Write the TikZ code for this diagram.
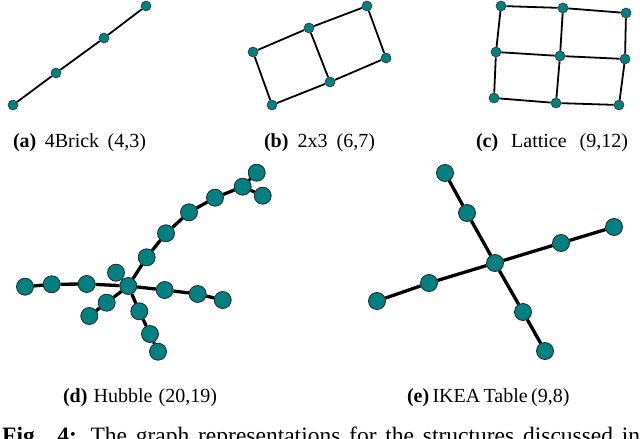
\documentclass[tikz,border=0pt]{standalone}
\usepackage{fontspec}
\setmainfont{Liberation Serif}
\definecolor{nodeteal}{RGB}{0,128,128}
\begin{document}
\begin{tikzpicture}[x=1pt,y=-1pt,
  sv/.style={circle,fill=nodeteal,draw=black!80,line width=0.6pt,inner sep=0pt,minimum size=10pt},
  bv/.style={circle,fill=nodeteal,draw=black!85,line width=0.8pt,inner sep=0pt,minimum size=17pt},
  se/.style={line width=1.8pt},
  be/.style={line width=3.3pt},
  subcap/.style={anchor=base,font=\fontsize{20}{24}\selectfont,inner sep=0pt},
  figcap/.style={anchor=base west,font=\fontsize{23.5}{28}\selectfont,inner sep=0pt}]
\useasboundingbox (0,0) rectangle (640,439);

% (a) 4Brick
\node[sv] (a1) at (13,105) {};
\node[sv] (a2) at (56,73) {};
\node[sv] (a3) at (104,38) {};
\node[sv] (a4) at (146,6) {};
\draw[se] (a1) -- (a2) -- (a3) -- (a4);

% (b) 2x3
\node[sv] (b1) at (253,52) {};
\node[sv] (b2) at (309,28) {};
\node[sv] (b3) at (367,6) {};
\node[sv] (b4) at (272,105) {};
\node[sv] (b5) at (330,82) {};
\node[sv] (b6) at (386,58) {};
\draw[se] (b1) -- (b2) -- (b3);
\draw[se] (b4) -- (b5) -- (b6);
\draw[se] (b1) -- (b4);
\draw[se] (b2) -- (b5);
\draw[se] (b3) -- (b6);

% (c) Lattice
\node[sv] (c1) at (501,6) {};
\node[sv] (c2) at (563,8) {};
\node[sv] (c3) at (626,13) {};
\node[sv] (c4) at (496,52) {};
\node[sv] (c5) at (560,56) {};
\node[sv] (c6) at (625,59) {};
\node[sv] (c7) at (494,98) {};
\node[sv] (c8) at (556,103) {};
\node[sv] (c9) at (619,105) {};
\draw[se] (c1) -- (c2) -- (c3);
\draw[se] (c4) -- (c5) -- (c6);
\draw[se] (c7) -- (c8) -- (c9);
\draw[se] (c1) -- (c4) -- (c7);
\draw[se] (c2) -- (c5) -- (c8);
\draw[se] (c3) -- (c6) -- (c9);

% (d) Hubble
\node[bv] (h1) at (256.7,172.7) {};
\node[bv] (h3) at (262.7,195.7) {};
\node[bv] (h2) at (242.7,186.7) {};
\node[bv] (h4) at (215,197.7) {};
\node[bv] (h5) at (189,212.3) {};
\node[bv] (h6) at (166,233.3) {};
\node[bv] (h7) at (146.7,257.3) {};
\node[bv] (h8) at (116,272.7) {};
\node[bv] (h10) at (86.7,284) {};
\node[bv] (h11) at (51.7,284.3) {};
\node[bv] (h12) at (25,286.7) {};
\node[bv] (h13) at (164.7,290) {};
\node[bv] (h14) at (197.7,294) {};
\node[bv] (h15) at (222.7,300) {};
\node[bv] (h16) at (106.7,302.7) {};
\node[bv] (h17) at (89.3,316) {};
\node[bv] (h18) at (139.3,311.3) {};
\node[bv] (h19) at (150,334) {};
\node[bv] (h20) at (158,351.7) {};
\node[bv] (h9) at (128.3,286) {};
\draw[be] (h9) -- (h7) -- (h6) -- (h5) -- (h4) -- (h2) -- (h1);
\draw[be] (h2) -- (h3);
\draw[be] (h9) -- (h8);
\draw[be] (h9) -- (h10) -- (h11) -- (h12);
\draw[be] (h9) -- (h13) -- (h14) -- (h15);
\draw[be] (h9) -- (h16) -- (h17);
\draw[be] (h9) -- (h18) -- (h19) -- (h20);

% (e) IKEA Table
\node[bv] (e0) at (495,263) {};
\node[bv] (e1) at (467,213) {};
\node[bv] (e2) at (445,173) {};
\node[bv] (e3) at (523,312) {};
\node[bv] (e4) at (545,351) {};
\node[bv] (e5) at (561,243) {};
\node[bv] (e6) at (614,227) {};
\node[bv] (e7) at (429,283) {};
\node[bv] (e8) at (377,301) {};
\draw[be] (e0) -- (e1) -- (e2);
\draw[be] (e0) -- (e3) -- (e4);
\draw[be] (e0) -- (e5) -- (e6);
\draw[be] (e0) -- (e7) -- (e8);

% captions
\node[subcap] (ca) at (79.5,147) {\makebox[133pt][s]{\textbf{(a)} 4Brick (4,3)}};
\node[subcap] (cb) at (319.5,147) {\makebox[111pt][s]{\textbf{(b)} 2x3 (6,7)}};
\node[subcap] (cc) at (552,147) {\makebox[152pt][s]{\textbf{(c)} Lattice (9,12)}};
\node[subcap] (cd) at (140,402) {\makebox[154pt][s]{\textbf{(d)} Hubble (20,19)}};
\node[subcap] (ce) at (467,402) {\makebox[120pt][s]{\textbf{(e)} IKEA Table (9,8)}};
\node[figcap] (fig) at (2,443) {\makebox[638pt][s]{\textbf{Fig. 4:} The graph representations for the structures discussed in}};
\end{tikzpicture}
\end{document}
